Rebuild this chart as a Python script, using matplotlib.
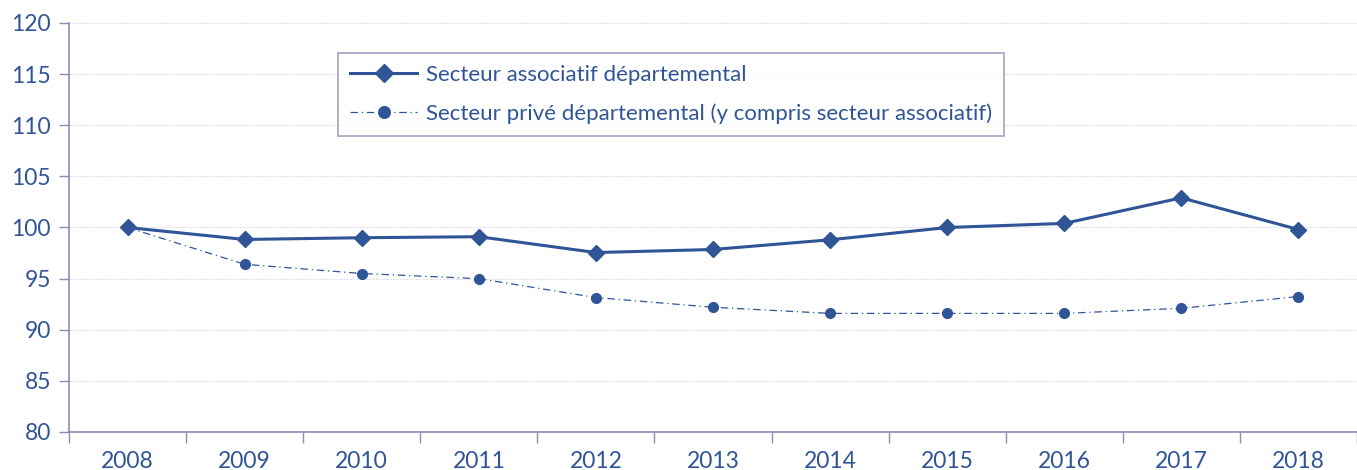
import numpy as np
import matplotlib.pyplot as plt

plt.rcParams['font.family'] = ['Lato', 'DejaVu Sans']

annees = ['2008', '2009', '2010', '2011', '2012', '2013', '2014', '2015', '2016', '2017', '2018']
associatif = [100.0, 98.83, 99.0, 99.1, 97.55, 97.85, 98.8, 100.0, 100.4, 102.9, 99.8]
prive = [100.0, 96.4, 95.5, 95.0, 93.15, 92.2, 91.6, 91.6, 91.6, 92.1, 93.25]

bleu = '#2F5597'
axe = '#8E8CB4'

fig = plt.figure(figsize=(13.57, 4.70), dpi=100)
ax = fig.add_axes([69 / 1357, 38 / 470, 1 - 69 / 1357, 409 / 470])

x = np.arange(len(annees))
ax.plot(x, associatif, color=bleu, lw=2.2, marker='D', ms=8,
        label='Secteur associatif départemental')
ax.plot(x, prive, color=bleu, lw=0.9, ls=(0, (6, 3, 1, 3)), marker='o', ms=7,
        label='Secteur privé départemental (y compris secteur associatif)')

ax.set_xlim(-0.5, len(annees) - 0.5)
ax.set_ylim(80, 120)
ax.set_yticks(range(80, 121, 5))
ax.set_xticks(x)
ax.set_xticklabels(annees)
ax.set_xticks(np.arange(-0.5, len(annees), 1), minor=True)
ax.tick_params(axis='x', which='major', length=0, pad=14, labelsize=16.5, labelcolor=bleu)
ax.tick_params(axis='x', which='minor', length=8, color=axe, width=1)
ax.tick_params(axis='y', length=7, color=axe, width=1, labelsize=16.5, labelcolor=bleu, pad=6)

ax.grid(axis='y', color='#E0E0EC', ls=(0, (2, 1)), lw=0.8)
ax.set_axisbelow(True)
for s in ['top', 'right']:
    ax.spines[s].set_visible(False)
ax.spines['left'].set_color(axe)
ax.spines['bottom'].set_color(axe)
ax.spines['left'].set_linewidth(1.2)
ax.spines['bottom'].set_linewidth(1.2)

leg = ax.legend(loc='upper left', bbox_to_anchor=((338 - 69) / 1288, (432 - 53) / 409),
                fontsize=16, frameon=True, fancybox=False, handlelength=3.0,
                borderpad=0.55, labelspacing=0.8, handletextpad=0.4, labelcolor=bleu,
                borderaxespad=0, markerscale=1.2)
leg.get_frame().set_edgecolor(axe)
leg.get_frame().set_linewidth(1.2)

fig.savefig('out.png', dpi=100)
